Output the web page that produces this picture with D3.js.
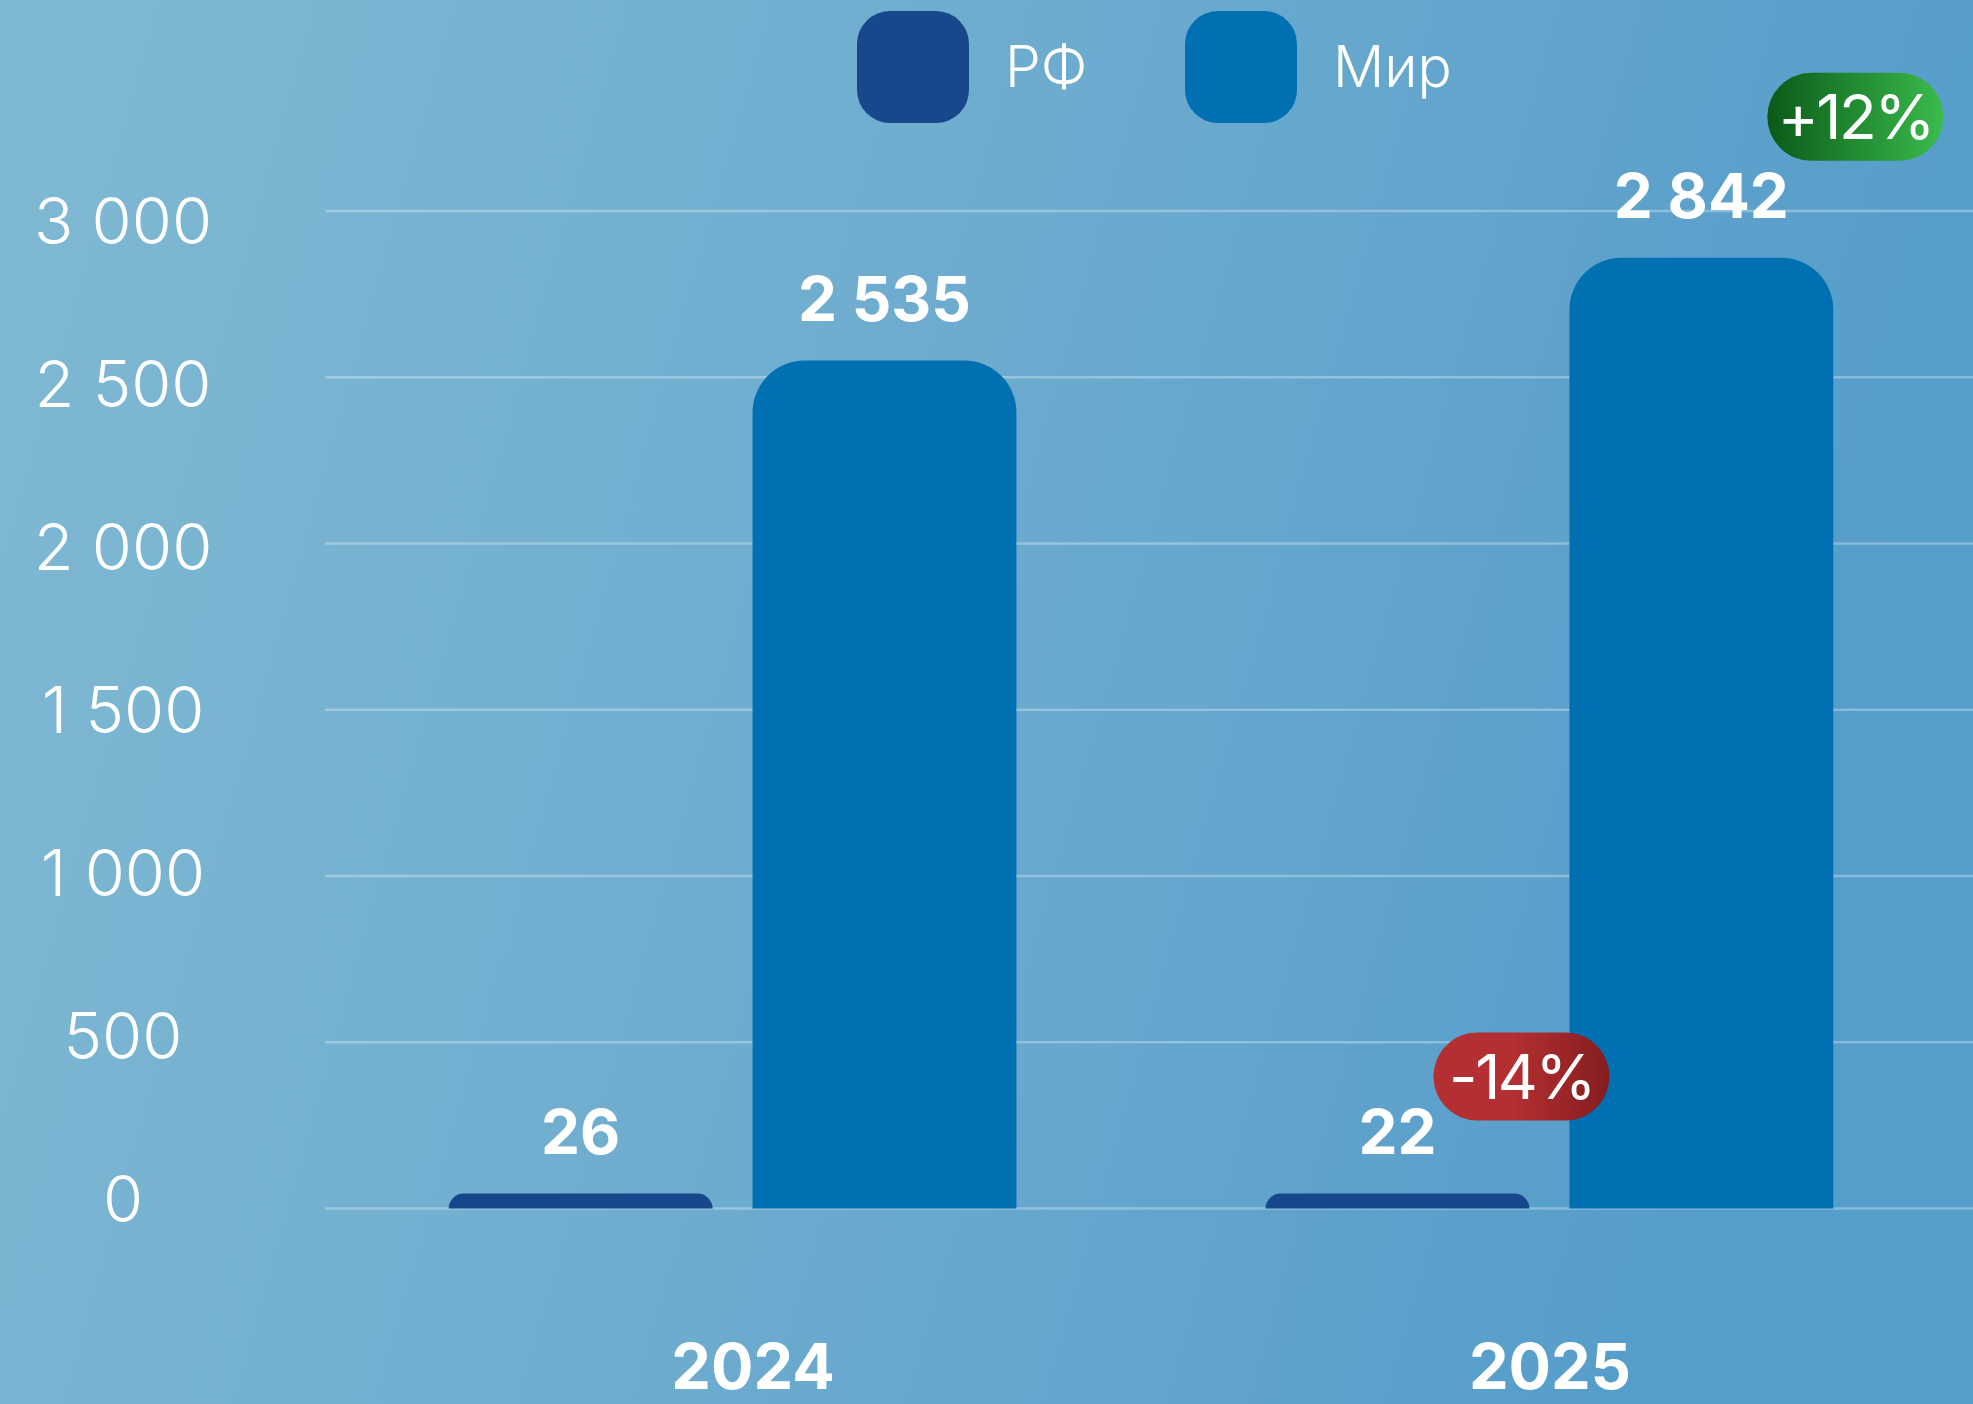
<!DOCTYPE html>
<html>
<head>
<meta charset="utf-8">
<script src="https://cdn.jsdelivr.net/npm/d3@7"></script>
<style>
  html, body { margin: 0; padding: 0; overflow: hidden; }
  svg { display: block; font-family: "Inter", "Open Sans", sans-serif; }
</style>
</head>
<body>
<div id="chart"></div>
<script>
// Data
const years = ["2024", "2025"];
const seriesNames = ["РФ", "Мир"];
const rfValues = [26, 22];
const mirValues = [2535, 2842];
const yTicks = [0, 500, 1000, 1500, 2000, 2500, 3000];
const changeLabels = ["-14%", "+12%"];
const changeSeries = ["РФ", "Мир"];
const changeYears = ["2025", "2025"];

const width = 1973;
const height = 1404;

const colors = { "РФ": "#17488c", "Мир": "#0070b2" };

const svg = d3.select("#chart").append("svg")
    .attr("width", width)
    .attr("height", height);

const defs = svg.append("defs");

// background gradient
const bg = defs.append("linearGradient").attr("id", "bg")
    .attr("x1", "0%").attr("y1", "0%").attr("x2", "100%").attr("y2", "20%");
bg.append("stop").attr("offset", "0%").attr("stop-color", "#80b9d3");
bg.append("stop").attr("offset", "50%").attr("stop-color", "#6eaccf");
bg.append("stop").attr("offset", "100%").attr("stop-color", "#559dca");

const green = defs.append("linearGradient").attr("id", "green");
green.append("stop").attr("offset", "0%").attr("stop-color", "#0a5a18");
green.append("stop").attr("offset", "100%").attr("stop-color", "#3abb4c");

const red = defs.append("linearGradient").attr("id", "red");
red.append("stop").attr("offset", "0%").attr("stop-color", "#b52f32");
red.append("stop").attr("offset", "45%").attr("stop-color", "#b32f31");
red.append("stop").attr("offset", "100%").attr("stop-color", "#841d1f");

svg.append("rect")
    .attr("width", width)
    .attr("height", height)
    .attr("fill", "url(#bg)");

// scales
const x = d3.scaleBand()
    .domain(years)
    .range([318, 1964])
    .paddingInner(0.305)
    .paddingOuter(0.16);

const xSub = d3.scaleBand()
    .domain(seriesNames)
    .range([0, x.bandwidth()])
    .paddingInner(0.1316);

// year labels sit a little off the group centres in the original
const xLabel = d3.scalePoint()
    .domain(years)
    .range([753, 1550]);

const y = d3.scaleLinear()
    .domain([0, 3000])
    .range([1208.5, 205]);

// grid and tick labels are spaced slightly differently from the bars
const yGrid = y.copy().range([1208.5, 211]);
const yLabel = y.copy().range([1199, 221]);

// gridlines
svg.append("g")
    .selectAll("line")
    .data(yTicks)
    .join("line")
    .attr("x1", 325)
    .attr("x2", width)
    .attr("y1", d => yGrid(d))
    .attr("y2", d => yGrid(d))
    .attr("stroke", "rgba(255,255,255,0.3)")
    .attr("stroke-width", 2.5);

// y axis labels
svg.append("g")
    .selectAll("text")
    .data(yTicks)
    .join("text")
    .attr("x", 123)
    .attr("y", d => yLabel(d))
    .attr("dy", "0.36em")
    .attr("text-anchor", "middle")
    .attr("fill", "#fff")
    .attr("font-size", 65)
    .attr("font-weight", 300)
    .text(d => d3.format(",")(d).replace(/,/g, " "));

// bars
const rows = [];
years.forEach((yr, i) => {
    rows.push({ year: yr, series: "РФ", value: rfValues[i] });
    rows.push({ year: yr, series: "Мир", value: mirValues[i] });
});

function barPath(x0, w, top, bottom) {
    const r = Math.min(52, w / 2, bottom - top);
    return `M${x0},${bottom}V${top + r}A${r},${r} 0 0 1 ${x0 + r},${top}` +
        `H${x0 + w - r}A${r},${r} 0 0 1 ${x0 + w},${top + r}V${bottom}Z`;
}

function barTop(d) {
    return Math.min(y(d.value), y(0) - 15);
}

svg.append("g")
    .selectAll("path")
    .data(rows)
    .join("path")
    .attr("fill", d => colors[d.series])
    .attr("d", d => barPath(x(d.year) + xSub(d.series), xSub.bandwidth(), barTop(d), y(0)));

// value labels
svg.append("g")
    .selectAll("text")
    .data(rows)
    .join("text")
    .attr("x", d => x(d.year) + xSub(d.series) + xSub.bandwidth() / 2)
    .attr("y", d => barTop(d) - 40)
    .attr("text-anchor", "middle")
    .attr("fill", "#fff")
    .attr("font-size", 62)
    .attr("font-weight", 700)
    .text(d => d3.format(",")(d.value).replace(/,/g, " "));

// year labels
svg.append("g")
    .selectAll("text")
    .data(years)
    .join("text")
    .attr("x", d => xLabel(d))
    .attr("y", 1389)
    .attr("text-anchor", "middle")
    .attr("fill", "#fff")
    .attr("font-size", 63)
    .attr("font-weight", 700)
    .text(d => d);

// legend
const legend = svg.append("g")
    .selectAll("g")
    .data(seriesNames)
    .join("g")
    .attr("transform", (d, i) => `translate(${857 + i * 328},11)`);

legend.append("rect")
    .attr("width", 112)
    .attr("height", 112)
    .attr("rx", 33)
    .attr("fill", d => colors[d]);

legend.append("text")
    .attr("x", 148)
    .attr("y", 76)
    .attr("fill", "#fff")
    .attr("font-size", 57)
    .attr("font-weight", 300)
    .text(d => d);

// change badges
const badgeOffsets = { "РФ": [-8, -77], "Мир": [22, -101] };
const badgeFill = { "РФ": "url(#red)", "Мир": "url(#green)" };

const badges = svg.append("g")
    .selectAll("g")
    .data(changeLabels.map((label, i) => ({ label, series: changeSeries[i], year: changeYears[i] })))
    .join("g")
    .attr("transform", d => {
        const row = rows.find(r => r.year === d.year && r.series === d.series);
        const right = x(d.year) + xSub(d.series) + xSub.bandwidth();
        const top = barTop(row) - 40;
        const off = badgeOffsets[d.series];
        return `translate(${right + off[0]},${top + off[1]})`;
    });

badges.append("rect")
    .attr("x", -88)
    .attr("y", -44)
    .attr("width", 176)
    .attr("height", 88)
    .attr("rx", 44)
    .attr("fill", d => badgeFill[d.series]);

badges.append("text")
    .attr("text-anchor", "middle")
    .attr("dy", "0.36em")
    .attr("fill", "#fff")
    .attr("font-size", 62)
    .attr("font-weight", 400)
    .attr("letter-spacing", -2.5)
    .text(d => d.label);
</script>
</body>
</html>
